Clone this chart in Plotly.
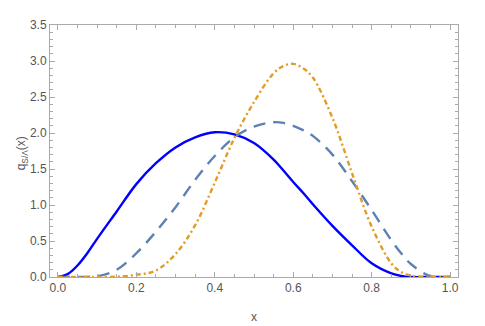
import plotly.graph_objects as go

# values
x_vals = [0.0, 0.025, 0.05, 0.075, 0.1, 0.15, 0.2, 0.25, 0.3, 0.35, 0.4, 0.45, 0.5,
          0.55, 0.575, 0.6, 0.625, 0.65, 0.7, 0.75, 0.8, 0.85, 0.875, 0.9, 0.95, 1.0]
q_solid = [0.0, 0.04, 0.16, 0.33, 0.53, 0.91, 1.29, 1.58, 1.80, 1.94, 2.01, 1.98, 1.86,
           1.63, 1.48, 1.32, 1.17, 1.01, 0.71, 0.44, 0.19, 0.05, 0.015, 0.0, 0.0, 0.0]
q_dashed = [0.0, 0.0, 0.0, 0.002, 0.01, 0.10, 0.33, 0.63, 0.97, 1.35, 1.68, 1.94, 2.09,
            2.15, 2.14, 2.10, 2.04, 1.96, 1.70, 1.33, 0.93, 0.51, 0.33, 0.18, 0.01, 0.0]
q_dotdash = [0.0, 0.0, 0.0, 0.0, 0.0, 0.005, 0.03, 0.09, 0.32, 0.72, 1.31, 1.93, 2.43,
             2.83, 2.93, 2.96, 2.90, 2.77, 2.21, 1.44, 0.70, 0.19, 0.07, 0.02, 0.0, 0.0]

x_title = 'x'
y_title = 'q<sub>S/Λ</sub>(x)'

fig = go.Figure()

fig.add_trace(go.Scatter(x=x_vals, y=q_solid, mode='lines',
                         line=dict(color='#0000FF', width=2.4, shape='spline', smoothing=1.0)))
fig.add_trace(go.Scatter(x=x_vals, y=q_dashed, mode='lines',
                         line=dict(color='#5E81B5', width=2.4, dash='12px,8px',
                                   shape='spline', smoothing=1.0)))
fig.add_trace(go.Scatter(x=x_vals, y=q_dotdash, mode='lines',
                         line=dict(color='#E19C24', width=2.4, dash='5px,3px,2px,3px',
                                   shape='spline', smoothing=1.0)))

font = dict(family='Liberation Sans, Arial, sans-serif', size=12, color='#555555')

axis_common = dict(
    showgrid=False, zeroline=False, automargin=False,
    showline=True, linecolor='#aaaaaa', linewidth=1, mirror='ticks',
    ticks='inside', ticklen=5, tickcolor='#aaaaaa',
    tickfont=font,
)

# the page body has an 8px margin, so margins are offset to line up the frame
fig.update_layout(
    width=485, height=326,
    margin=dict(l=42, r=35, t=17, b=57),
    paper_bgcolor='white', plot_bgcolor='white',
    showlegend=False,
    xaxis=dict(
        range=[-0.02, 1.02], tickvals=[0, 0.2, 0.4, 0.6, 0.8, 1.0],
        ticktext=['0.0', '0.2', '0.4', '0.6', '0.8', '1.0'],
        minor=dict(ticks='inside', ticklen=3, tickcolor='#aaaaaa', dtick=0.05, tick0=0),
        **axis_common
    ),
    yaxis=dict(
        range=[0, 3.5], tickvals=[0, 0.5, 1, 1.5, 2, 2.5, 3, 3.5],
        ticktext=['0.0', '0.5', '1.0', '1.5', '2.0', '2.5', '3.0', '3.5'],
        minor=dict(ticks='inside', ticklen=3, tickcolor='#aaaaaa', dtick=0.1, tick0=0),
        **axis_common
    ),
)

# axis titles placed as annotations to match the reference positions
fig.add_annotation(text=x_title, xref='paper', yref='paper', x=0.5, y=-0.16,
                   xanchor='center', yanchor='middle', showarrow=False, font=font)
fig.add_annotation(text=y_title, xref='paper', yref='paper', x=-0.069, y=0.49,
                   xanchor='center', yanchor='middle', textangle=-90,
                   showarrow=False, font=font)

fig.write_html("out.html")
